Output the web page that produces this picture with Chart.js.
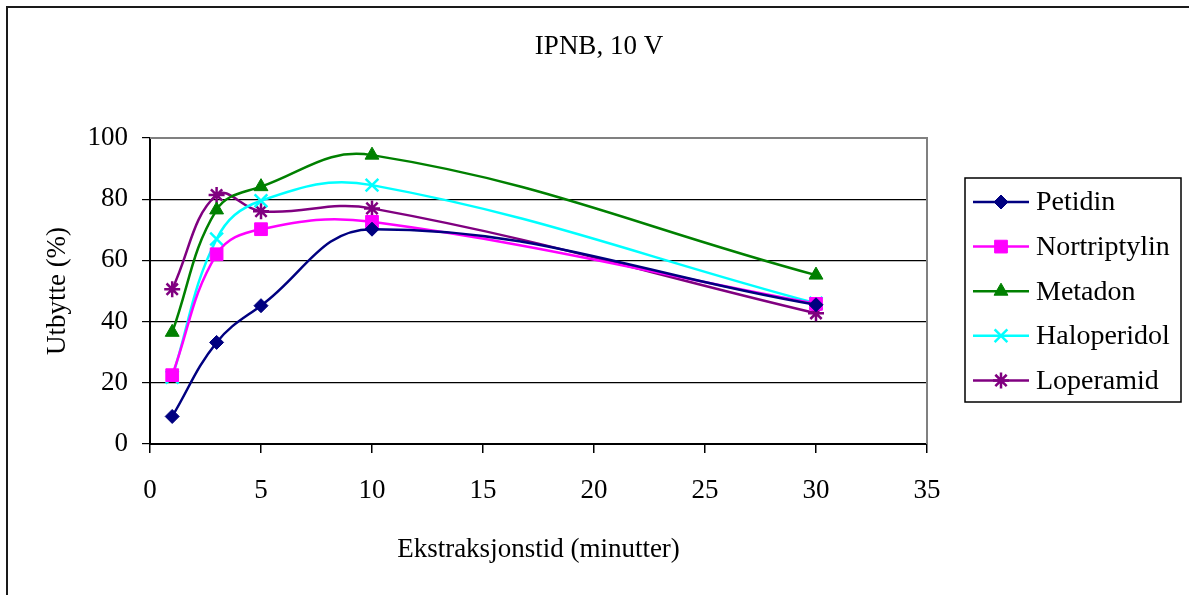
<!DOCTYPE html>
<html>
<head>
<meta charset="utf-8">
<title>IPNB, 10 V</title>
<script src="https://cdn.jsdelivr.net/npm/chart.js@4/dist/chart.umd.min.js"></script>
<style>
  html, body { margin: 0; padding: 0; background: #fff; }
  #wrap { width: 1189px; height: 595px; }
</style>
</head>
<body>
<div id="wrap"><canvas id="chart" width="1189" height="595"></canvas></div>
<script>
// ── data ──
const chartTitle = 'IPNB, 10 V';
const xTitle = 'Ekstraksjonstid (minutter)';
const yTitle = 'Utbytte (%)';

const minutes      = [1, 3, 5, 10, 30];
const petidin      = [9, 33.2, 45.2, 70.2, 45.5];
const nortriptylin = [22.5, 62, 70.2, 72.6, 45.8];
const metadon      = [36.5, 76.5, 84.1, 94.4, 55.2];
const haloperidol  = [21.8, 67, 79.5, 84.6, 46];
const loperamid    = [50.6, 81.4, 76.1, 77, 42.7];

const xTicks = [0, 5, 10, 15, 20, 25, 30, 35];
const yTicks = [0, 20, 40, 60, 80, 100];

const FONT = 'Liberation Serif';

const series = [
    { label: 'Petidin',      values: petidin,      color: '#000080', style: 'rectRot',  radius: 7 },
    { label: 'Nortriptylin', values: nortriptylin, color: '#FF00FF', style: 'rect',     radius: 9 },
    { label: 'Metadon',      values: metadon,      color: '#008000', style: 'triangle', radius: 8 },
    { label: 'Haloperidol',  values: haloperidol,  color: '#00FFFF', style: 'crossRot', radius: 9 },
    { label: 'Loperamid',    values: loperamid,    color: '#800080', style: 'star',     radius: 8 }
];

const datasets = series.map(s => ({
    label: s.label,
    data: minutes.map((m, i) => ({ x: m, y: s.values[i] })),
    borderColor: s.color,
    backgroundColor: s.color,
    borderWidth: 2.5,
    tension: 0.4,
    pointStyle: s.style,
    pointRadius: s.radius,
    pointHoverRadius: s.radius,
    pointBackgroundColor: s.color,
    pointBorderColor: s.color,
    pointBorderWidth: (s.style === 'crossRot' || s.style === 'star') ? 2.5 : 1
}));

// ── white page, outer frame, plot border, title, legend ──
const decor = {
    id: 'decor',
    beforeDraw(chart) {
        const ctx = chart.ctx;
        ctx.save();
        ctx.fillStyle = '#fff';
        ctx.fillRect(0, 0, chart.width, chart.height);
        ctx.restore();
    },
    afterDraw(chart) {
        const ctx = chart.ctx;
        const a = chart.chartArea;
        ctx.save();

        // plot border (top/right grey)
        ctx.strokeStyle = '#808080';
        ctx.lineWidth = 2;
        ctx.beginPath();
        ctx.moveTo(a.left, a.top);
        ctx.lineTo(a.right, a.top);
        ctx.lineTo(a.right, a.bottom);
        ctx.stroke();

        // outer frame, only top and left show in the picture
        ctx.strokeStyle = '#1a1a1a';
        ctx.lineWidth = 2;
        ctx.beginPath();
        ctx.moveTo(7, chart.height);
        ctx.lineTo(7, 7);
        ctx.lineTo(chart.width, 7);
        ctx.stroke();

        // title
        ctx.fillStyle = '#000';
        ctx.font = '27px "' + FONT + '"';
        ctx.textAlign = 'center';
        ctx.textBaseline = 'middle';
        ctx.fillText(chartTitle, 599, 47);

        // legend
        const lx = a.right + 38, ly = 178, lw = 216, lh = 224;
        ctx.strokeStyle = '#000';
        ctx.lineWidth = 1.5;
        ctx.strokeRect(lx, ly, lw, lh);
        ctx.font = '28px "' + FONT + '"';
        ctx.textAlign = 'left';
        chart.data.datasets.forEach((ds, i) => {
            const y = ly + 24 + i * 44.6;
            ctx.strokeStyle = ds.borderColor;
            ctx.lineWidth = ds.borderWidth;
            ctx.beginPath();
            ctx.moveTo(lx + 8, y);
            ctx.lineTo(lx + 64, y);
            ctx.stroke();
            ctx.fillStyle = ds.pointBackgroundColor;
            ctx.strokeStyle = ds.pointBorderColor;
            ctx.lineWidth = ds.pointBorderWidth;
            Chart.helpers.drawPoint(ctx, {
                pointStyle: ds.pointStyle,
                radius: ds.pointRadius,
                rotation: 0,
                borderWidth: ds.pointBorderWidth
            }, lx + 36, y);
            ctx.fillStyle = '#000';
            ctx.fillText(ds.label, lx + 71, y + 1);
        });
        ctx.restore();
    }
};

new Chart(document.getElementById('chart'), {
    type: 'line',
    data: { datasets },
    options: {
        responsive: false,
        animation: false,
        devicePixelRatio: 1,
        layout: { padding: { top: 138, right: 262, bottom: 0, left: 0 } },
        plugins: {
            legend: { display: false },
            title: { display: false },
            tooltip: { enabled: false }
        },
        scales: {
            x: {
                type: 'linear',
                min: 0,
                max: 35,
                afterFit: s => { s.height = 151; },
                afterBuildTicks: s => { s.ticks = xTicks.map(v => ({ value: v })); },
                ticks: { color: '#000', padding: 22, font: { family: FONT, size: 27 } },
                grid: { drawOnChartArea: false, drawTicks: true, tickLength: 9, color: '#000', lineWidth: 1.5 },
                border: { color: '#000', width: 2 },
                title: {
                    display: true, text: xTitle, color: '#000',
                    font: { family: FONT, size: 27 },
                    padding: { top: 0, bottom: 29 }
                }
            },
            y: {
                min: 0,
                max: 100,
                afterFit: s => { s.width = 150; },
                afterBuildTicks: s => { s.ticks = yTicks.map(v => ({ value: v })); },
                ticks: { color: '#000', padding: 14, font: { family: FONT, size: 27 } },
                grid: {
                    color: '#000',
                    lineWidth: 1.2,
                    tickLength: 8
                },
                border: { color: '#000', width: 2 },
                title: {
                    display: true, text: yTitle, color: '#000',
                    font: { family: FONT, size: 27 },
                    padding: { top: 42, bottom: 0 }
                }
            }
        }
    },
    plugins: [decor]
});
</script>
</body>
</html>
